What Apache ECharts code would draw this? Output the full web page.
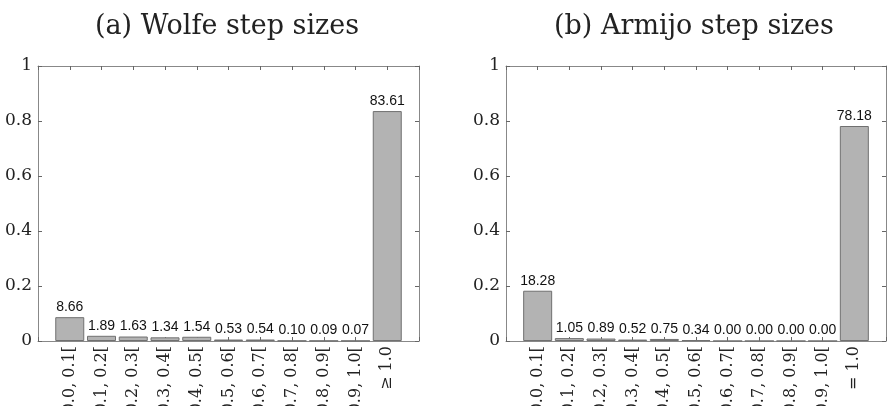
<!DOCTYPE html>
<html>
<head>
<meta charset="utf-8">
<script src="https://cdn.jsdelivr.net/npm/echarts@6/dist/echarts.min.js"></script>
<style>
  html, body { margin: 0; padding: 0; background: #fff; }
  #chart { width: 891px; height: 406px; }
</style>
</head>
<body>
<div id="chart"></div>
<script>
// step size bins
var wolfeCategories = ["[0.0, 0.1[", "[0.1, 0.2[", "[0.2, 0.3[", "[0.3, 0.4[", "[0.4, 0.5[",
  "[0.5, 0.6[", "[0.6, 0.7[", "[0.7, 0.8[", "[0.8, 0.9[", "[0.9, 1.0[", "≥ 1.0"];
var armijoCategories = ["[0.0, 0.1[", "[0.1, 0.2[", "[0.2, 0.3[", "[0.3, 0.4[", "[0.4, 0.5[",
  "[0.5, 0.6[", "[0.6, 0.7[", "[0.7, 0.8[", "[0.8, 0.9[", "[0.9, 1.0[", "= 1.0"];
// percentages (bar height = pct / 100)
var wolfePct = [8.66, 1.89, 1.63, 1.34, 1.54, 0.53, 0.54, 0.10, 0.09, 0.07, 83.61];
var armijoPct = [18.28, 1.05, 0.89, 0.52, 0.75, 0.34, 0.00, 0.00, 0.00, 0.00, 78.18];
var yTicks = [0, 0.2, 0.4, 0.6, 0.8, 1];
var titles = ["(a) Wolfe step sizes", "(b) Armijo step sizes"];

var serif = "DejaVu Serif";
var axisColor = "#888";

var chart = echarts.init(document.getElementById("chart"));

var grids = [
  { left: 38, right: 472, top: 66, bottom: 65, containLabel: false, outerBoundsMode: "none" },
  { left: 506, right: 5, top: 66, bottom: 65, containLabel: false, outerBoundsMode: "none" }
];

function xAxes(gi, cats) {
  var base = {
    gridIndex: gi,
    type: "value",
    min: 0,
    max: cats.length + 1,
    interval: 1,
    splitLine: { show: false },
    axisLine: { onZero: false, lineStyle: { color: axisColor, width: 1 } },
    axisTick: { inside: true, length: 4, lineStyle: { color: "#666" } }
  };
  var bottom = Object.assign({}, base, {
    position: "bottom",
    axisLabel: {
      rotate: 90,
      margin: 5,
      fontFamily: serif,
      fontSize: 16,
      color: "#222",
      formatter: function(v) {
        return (v >= 1 && v <= cats.length) ? cats[v - 1] : "";
      }
    }
  });
  var top = Object.assign({}, base, {
    position: "top",
    axisLabel: { show: false }
  });
  return [bottom, top];
}

function yAxes(gi) {
  var base = {
    gridIndex: gi,
    type: "value",
    min: yTicks[0],
    max: yTicks[yTicks.length - 1],
    interval: 0.2,
    splitLine: { show: false },
    axisLine: { show: true, onZero: false, lineStyle: { color: axisColor, width: 1 } },
    axisTick: { show: true, inside: true, length: 4, lineStyle: { color: "#666" } }
  };
  var left = Object.assign({}, base, {
    position: "left",
    axisLabel: { margin: 6, fontFamily: serif, fontSize: 17, color: "#222" }
  });
  var right = Object.assign({}, base, {
    position: "right",
    axisLabel: { show: false }
  });
  return [left, right];
}

function barSeries(ax, pct) {
  return {
    type: "bar",
    xAxisIndex: ax,
    yAxisIndex: ax,
    barWidth: 29,
    data: pct.map(function(p, i) { return [i + 1, p / 100]; }),
    itemStyle: { color: "#b3b3b3", borderColor: "#707070", borderWidth: 1 },
    label: {
      show: true,
      position: "top",
      distance: 3,
      fontFamily: "Liberation Sans",
      fontSize: 14,
      color: "#111",
      formatter: function(p) { return pct[p.dataIndex].toFixed(2); }
    },
    animation: false
  };
}

var option = {
  backgroundColor: "#fff",
  title: [
    { text: titles[0], left: 222, textAlign: "center", top: 8,
      textStyle: { fontFamily: serif, fontSize: 27, fontWeight: "normal", color: "#222" } },
    { text: titles[1], left: 689, textAlign: "center", top: 8,
      textStyle: { fontFamily: serif, fontSize: 27, fontWeight: "normal", color: "#222" } }
  ],
  grid: grids,
  xAxis: xAxes(0, wolfeCategories).concat(xAxes(1, armijoCategories)),
  yAxis: yAxes(0).concat(yAxes(1)),
  series: [barSeries(0, wolfePct), barSeries(2, armijoPct)]
};

chart.setOption(option);
</script>
</body>
</html>
